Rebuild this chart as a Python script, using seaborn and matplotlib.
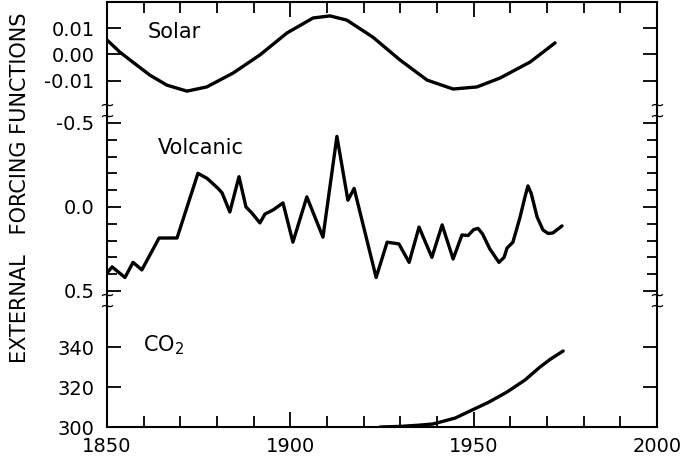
import matplotlib
matplotlib.use("Agg")
import matplotlib.pyplot as plt
import numpy as np
import pandas as pd
import seaborn as sns

# Solar forcing (relative)
solar_year = [1850, 1853.5, 1857.1, 1861.7, 1866.3, 1871.8, 1877.2, 1884.4, 1891.7,
              1899.1, 1906.2, 1910.8, 1915.4, 1922.5, 1929.9, 1937.3, 1944.4, 1950.9,
              1957.2, 1965.4, 1972.2]
solar_val = [0.0055, 0.0009, -0.0030, -0.0079, -0.0117, -0.0140, -0.0124, -0.0071, -0.0002,
             0.0082, 0.0139, 0.0147, 0.0131, 0.0066, -0.0021, -0.0098, -0.0132, -0.0124,
             -0.0090, -0.0029, 0.0044]

# Volcanic forcing (dust veil, inverted axis)
volc_year = [1850, 1851.4, 1854.9, 1857.1, 1859.5, 1864.2, 1869.1, 1874.8, 1877.3, 1880.3,
             1881.4, 1883.5, 1886.0, 1887.9, 1889.5, 1891.7, 1893.1, 1895.3, 1898.0, 1900.7,
             1904.5, 1908.9, 1912.7, 1915.7, 1917.4, 1923.4, 1926.4, 1929.6, 1932.4, 1935.1,
             1938.6, 1941.4, 1944.4, 1946.8, 1948.5, 1950.0, 1951.2, 1952.4, 1954.4, 1956.9,
             1958.3, 1959.1, 1960.7, 1962.6, 1964.0, 1964.8, 1965.7, 1967.3, 1968.9, 1970.3,
             1971.6, 1974.1]
volc_val = [0.393, 0.357, 0.420, 0.330, 0.375, 0.185, 0.185, -0.200, -0.170, -0.110,
            -0.083, 0.030, -0.180, 0.000, 0.036, 0.095, 0.042, 0.018, -0.024, 0.210,
            -0.060, 0.180, -0.420, -0.040, -0.110, 0.420, 0.210, 0.220, 0.330, 0.120,
            0.300, 0.107, 0.310, 0.167, 0.170, 0.135, 0.128, 0.160, 0.250, 0.330,
            0.300, 0.245, 0.210, 0.065, -0.060, -0.125, -0.080, 0.060, 0.137, 0.158,
            0.155, 0.113]

# Atmospheric CO2 (ppm)
co2_year = [1924.5, 1930, 1935, 1938.9, 1945, 1949, 1954, 1959.1, 1964, 1968.1, 1971, 1974.4]
co2_val = [300.0, 300.3, 300.9, 301.5, 304.5, 308.0, 312.3, 317.5, 323.5, 330.0, 334.0, 338.0]

x_ticks = [1850, 1900, 1950, 2000]

sns.set_style("ticks")
plt.rcParams["font.family"] = ["DejaVu Sans"]
plt.rcParams.update({
    "text.color": "black", "axes.labelcolor": "black",
    "xtick.color": "black", "ytick.color": "black",
    "xtick.labelsize": 14, "ytick.labelsize": 14,
})

fig = plt.figure(figsize=(6.87, 4.66), dpi=100)
gs = fig.add_gridspec(3, 1, left=107 / 687, right=657 / 687, top=1 - 2 / 466,
                      bottom=1 - 427 / 466, height_ratios=[108, 191, 126], hspace=0)
ax1 = fig.add_subplot(gs[0])
ax2 = fig.add_subplot(gs[1], sharex=ax1)
ax3 = fig.add_subplot(gs[2], sharex=ax1)

line_kw = dict(color="black", linewidth=2.4, sort=False, estimator=None)
sns.lineplot(data=pd.DataFrame({"year": solar_year, "v": solar_val}), x="year", y="v", ax=ax1, **line_kw)
sns.lineplot(data=pd.DataFrame({"year": volc_year, "v": volc_val}), x="year", y="v", ax=ax2, **line_kw)
sns.lineplot(data=pd.DataFrame({"year": co2_year, "v": co2_val}), x="year", y="v", ax=ax3, **line_kw)

ax1.set_xlim(1850, 2000)
ax1.set_ylim(-0.0212, 0.0200)
ax2.set_ylim(0.56, -0.577)
ax3.set_ylim(300, 363)

for ax in (ax1, ax2, ax3):
    ax.set_xlabel("")
    ax.set_ylabel("")
    for s in ax.spines.values():
        s.set_linewidth(1.5)
        s.set_color("black")
    ax.tick_params(axis="both", which="both", direction="in", left=True, right=True,
                   labelsize=14, pad=9, width=1.3, color="black")
    ax.tick_params(axis="y", which="major", length=10)
    ax.tick_params(axis="y", which="minor", length=7)
    ax.set_xticks(x_ticks)
    ax.set_xticks(np.arange(1850, 2001, 10), minor=True)

ax1.spines["bottom"].set_visible(False)
ax2.spines["top"].set_visible(False)
ax2.spines["bottom"].set_visible(False)
ax3.spines["top"].set_visible(False)

ax1.tick_params(axis="x", which="both", top=True, bottom=False, labelbottom=False)
ax1.tick_params(axis="x", which="major", length=11)
ax1.tick_params(axis="x", which="minor", length=8)
ax2.tick_params(axis="x", which="both", top=False, bottom=False, labelbottom=False)
ax3.tick_params(axis="x", which="both", top=False, bottom=True, labelbottom=True, pad=7)
ax3.tick_params(axis="x", which="major", length=11)
ax3.tick_params(axis="x", which="minor", length=8)

ax1.set_yticks([-0.01, 0.0, 0.01], labels=["-0.01", "0.00", "0.01"], fontsize=14)
ax2.set_yticks([-0.5, 0.0, 0.5], labels=["-0.5", "0.0", "0.5"], fontsize=14)
ax2.set_yticks(np.arange(-0.5, 0.51, 0.1), minor=True)
ax3.set_yticks([300, 320, 340], labels=["300", "320", "340"], fontsize=14)
ax3.tick_params(axis="y", which="minor", left=False, right=False)
ax1.tick_params(axis="y", which="minor", left=False, right=False)

ax1.text(0.122, 0.72, "Solar", transform=ax1.transAxes, fontsize=15, ha="center", va="center")
ax2.text(0.17, 0.80, "Volcanic", transform=ax2.transAxes, fontsize=15, ha="center", va="center")
ax3.text(0.102, 0.65, "CO$_2$", transform=ax3.transAxes, fontsize=15, ha="center", va="center")

fig.text(20 / 687, 1 - 188 / 466, "EXTERNAL   FORCING FUNCTIONS", rotation=90,
         fontsize=15, ha="center", va="center")

# axis break marks on both vertical spines
for yb in (111, 301):
    for xb in (107, 657):
        fig.text(xb / 687, 1 - yb / 466, "~\n~", fontsize=13, linespacing=0.55,
                 ha="center", va="center")

fig.savefig("out.png", dpi=100)
